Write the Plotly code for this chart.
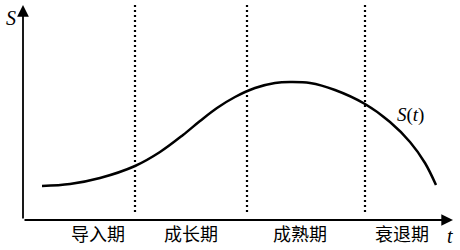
import plotly.graph_objects as go

# Curve S(t) (t in px-like units, S upward)
t_vals = [42, 70, 100, 135, 160, 183, 200, 217, 235, 255, 275, 290, 310, 335, 365, 390, 410, 425, 436]
s_vals = [64, 66, 72, 84, 98, 115, 129, 142, 153, 162, 167, 168, 167, 160, 146, 128, 108, 87, 65]

# Stage boundaries (dotted lines)
boundaries = [135, 247, 365]
stage_labels = ["导入期", "成长期", "成熟期", "衰退期"]
stage_centers = [98, 191, 300, 402]

origin = (23, 30)
x_end = 453
y_end = 245
dot_bottom = 38

fig = go.Figure()
fig.add_trace(go.Scatter(x=t_vals, y=s_vals, mode="lines",
                         line=dict(color="black", width=2.5, shape="spline", smoothing=1.0),
                         hoverinfo="skip", showlegend=False))

for b in boundaries:
    fig.add_shape(type="line", x0=b, x1=b, y0=dot_bottom, y1=y_end, xref="x", yref="y",
                  line=dict(color="black", width=2.2, dash="2px,3px"))

# axes with arrows
fig.add_annotation(x=x_end, y=origin[1], ax=origin[0], ay=origin[1], xref="x", yref="y",
                   axref="x", ayref="y", text="", showarrow=True, arrowhead=2,
                   arrowsize=1.3, arrowwidth=1.8, arrowcolor="black")
fig.add_annotation(x=origin[0], y=y_end, ax=origin[0], ay=origin[1], xref="x", yref="y",
                   axref="x", ayref="y", text="", showarrow=True, arrowhead=2,
                   arrowsize=1.3, arrowwidth=1.8, arrowcolor="black")

serif = "Liberation Serif"
fig.add_annotation(x=11, y=232, text="<i>S</i>", showarrow=False,
                   font=dict(family=serif, size=20, color="black"))
fig.add_annotation(x=450, y=14, text="<i>t</i>", showarrow=False,
                   font=dict(family=serif, size=20, color="black"))
fig.add_annotation(x=410, y=135, text="<i>S</i>(<i>t</i>)", showarrow=False,
                   font=dict(family=serif, size=19, color="black"))

for lab, cx in zip(stage_labels, stage_centers):
    fig.add_annotation(x=cx, y=17, text=lab, showarrow=False,
                       font=dict(family="Noto Sans CJK SC", size=18, color="black"))

fig.update_xaxes(range=[0, 460], visible=False, fixedrange=True)
fig.update_yaxes(range=[0, 250], visible=False, fixedrange=True)
fig.update_layout(width=460, height=250, margin=dict(l=0, r=0, t=0, b=0),
                  plot_bgcolor="white", paper_bgcolor="white")

fig.write_html("out.html")
